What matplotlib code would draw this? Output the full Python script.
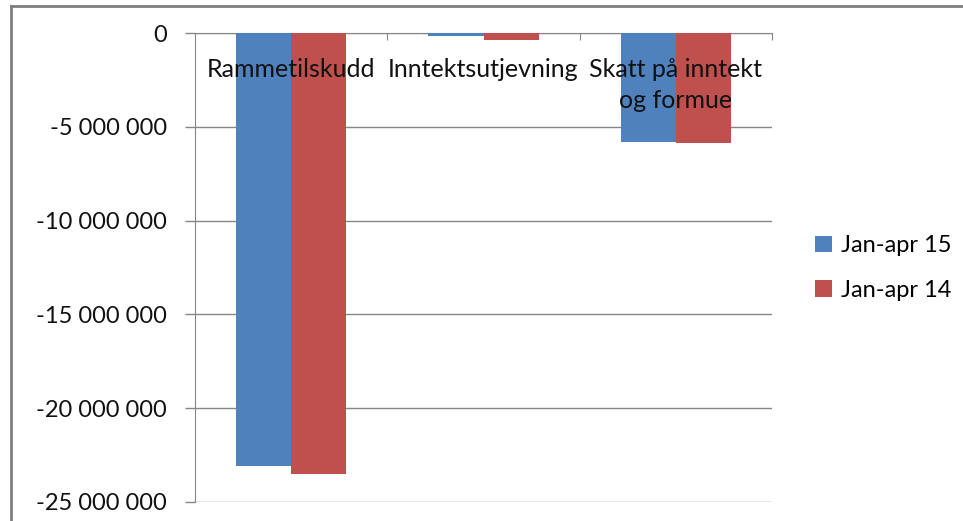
import matplotlib
matplotlib.use("Agg")
import matplotlib.pyplot as plt
from matplotlib.lines import Line2D
from matplotlib.ticker import FuncFormatter

# Data
kategorier = ["Rammetilskudd", "Inntektsutjevning", "Skatt på inntekt\nog formue"]
jan_apr_15 = [-23080000, -160000, -5810000]
jan_apr_14 = [-23500000, -350000, -5890000]
serier = ["Jan-apr 15", "Jan-apr 14"]
farger = ["#4F81BD", "#C0504D"]
yticks = [0, -5000000, -10000000, -15000000, -20000000, -25000000]

plt.rcParams['font.family'] = ['Lato', 'DejaVu Sans']

fig = plt.figure(figsize=(9.63, 5.21), dpi=100)
ax = fig.add_axes([195 / 963, 1 - 502 / 521, (772 - 195) / 963, (502 - 33) / 521])

x = range(len(kategorier))
w = 0.286
ax.bar([i - w / 2 for i in x], jan_apr_15, w, color=farger[0], label=serier[0], zorder=3)
ax.bar([i + w / 2 for i in x], jan_apr_14, w, color=farger[1], label=serier[1], zorder=3)

ax.set_xlim(-0.5, 2.5)
ax.set_ylim(-25000000, 0)
ax.set_yticks(yticks)
ax.yaxis.set_major_formatter(FuncFormatter(lambda v, p: f"{int(v):,}".replace(",", " ")))
ax.tick_params(axis='y', labelsize=17, length=7.2, width=1, color="#868686", pad=13,
               labelcolor="#111111")

# x-ticks at category borders, no labels
ax.set_xticks([0.5, 1.5, 2.5])
ax.set_xticklabels([])
ax.xaxis.set_ticks_position('top')
ax.tick_params(axis='x', top=True, bottom=False, direction='in', length=5, color="#868686")

ax.grid(axis='y', color="#868686", lw=1, zorder=0)
for s in ['right', 'bottom']:
    ax.spines[s].set_visible(False)
ax.spines['top'].set_color("#868686")
ax.spines['left'].set_color("#868686")

# category labels inside plot area
for i, k in enumerate(kategorier):
    ax.text(i, -1350000, k, ha='center', va='top', fontsize=18, color="#111111",
            linespacing=1.4, zorder=4)

fig.legend(loc='center left', bbox_to_anchor=(794 / 963, 1 - 268 / 521), frameon=False,
           fontsize=17, handlelength=0.7, handleheight=0.7, handletextpad=0.4,
           labelspacing=1.0)

# outer chart frame (top and left edges)
fig.add_artist(Line2D([11 / 963, 1], [1 - 6 / 521, 1 - 6 / 521], color="#7f7f7f", lw=2,
                      transform=fig.transFigure))
fig.add_artist(Line2D([11 / 963, 11 / 963], [0, 1 - 6 / 521], color="#7f7f7f", lw=2,
                      transform=fig.transFigure))

fig.savefig("out.png", dpi=100)
